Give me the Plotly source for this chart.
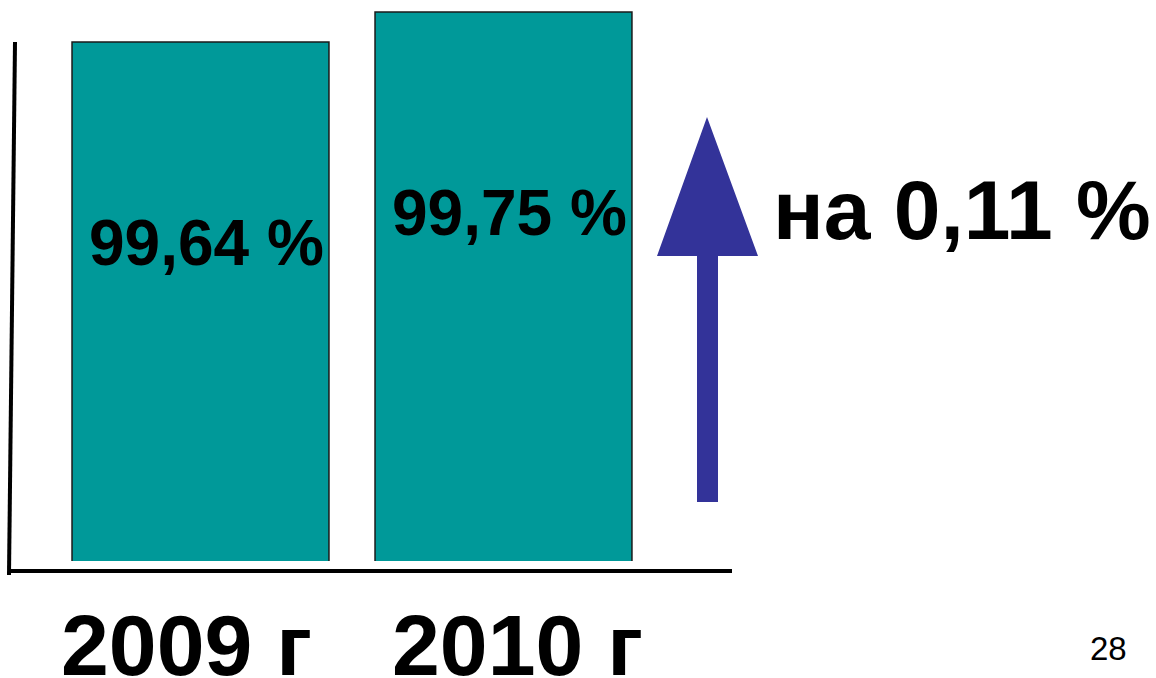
import plotly.graph_objects as go

# data
years = ["2009 г", "2010 г"]
shares = [99.64, 99.75]
growth_label = "на 0,11 %"
page_number = "28"

W, H = 1156, 678
PLOT_BOTTOM = 561  # pixel row of the plot area bottom
FONT = "Liberation Sans, Arial, sans-serif"


def px(x, y):
    """pixel position on the page -> paper coordinates"""
    return x / W, (PLOT_BOTTOM - y) / PLOT_BOTTOM


def fmt(v):
    return f"{v:.2f}".replace(".", ",") + " %"


fig = go.Figure()
fig.add_trace(go.Bar(
    x=years,
    y=shares,
    width=0.848,
    marker=dict(color="#009999", line=dict(color="#1a1a1a", width=1.5)),
    hoverinfo="skip",
))

# value labels inside the bars, a fixed distance below the bar top
for yr, v in zip(years, shares):
    fig.add_annotation(
        x=yr, y=v, xref="x", yref="y",
        text=f"<b>{fmt(v)}</b>", showarrow=False,
        xshift=6, yshift=-201, yanchor="middle",
        font=dict(family=FONT, size=64, color="black"),
    )

# year labels under the axis (they touch the bottom edge, as in the slide)
for yr, dx in zip(years, [-14, 14]):
    fig.add_annotation(
        x=yr, y=px(0, 645)[1], xref="x", yref="paper",
        text=f"<b>{yr}</b>", showarrow=False, xshift=dx, yanchor="middle",
        font=dict(family=FONT, size=86, color="black"),
    )

# axis lines, drawn by hand (the y one leans slightly)
x0, y0 = px(15, 42)
x1, y1 = px(9, 575)
fig.add_shape(type="line", xref="paper", yref="paper", x0=x0, y0=y0, x1=x1, y1=y1,
              line=dict(color="black", width=4))
x0, y0 = px(9, 571)
x1, y1 = px(732, 571)
fig.add_shape(type="line", xref="paper", yref="paper", x0=x0, y0=y0, x1=x1, y1=y1,
              line=dict(color="black", width=4))

# up arrow
pts = [(697, 502), (718, 502), (718, 256), (758, 256), (707, 117), (657, 256), (697, 256)]
path = "M " + " L ".join(f"{px(a, b)[0]},{px(a, b)[1]}" for a, b in pts) + " Z"
fig.add_shape(type="path", xref="paper", yref="paper", path=path,
              fillcolor="#333399", line=dict(width=0))

gx, gy = px(962, 210)
fig.add_annotation(
    x=gx, y=gy, xref="paper", yref="paper", text=f"<b>{growth_label}</b>",
    showarrow=False, xanchor="center", yanchor="middle",
    font=dict(family=FONT, size=84, color="black"),
)

nx, ny = px(1108, 648)
fig.add_annotation(
    x=nx, y=ny, xref="paper", yref="paper", text=page_number,
    showarrow=False, xanchor="center", yanchor="middle",
    font=dict(family=FONT, size=33, color="black"),
)

fig.update_layout(
    width=W, height=H,
    margin=dict(l=0, r=0, t=0, b=H - PLOT_BOTTOM, pad=0),
    paper_bgcolor="white", plot_bgcolor="white",
    showlegend=False,
    xaxis=dict(range=[-0.6617, 3.1535], showticklabels=False, showgrid=False,
               zeroline=False, showline=False, ticks=""),
    yaxis=dict(range=[97.737, 99.794], showticklabels=False, showgrid=False,
               zeroline=False, showline=False, ticks=""),
)

# the page body has a default 8px margin; drop it so the figure fills the window
fig.write_html("out.html", config={"displayModeBar": False},
               post_script="document.body.style.margin='0';")
